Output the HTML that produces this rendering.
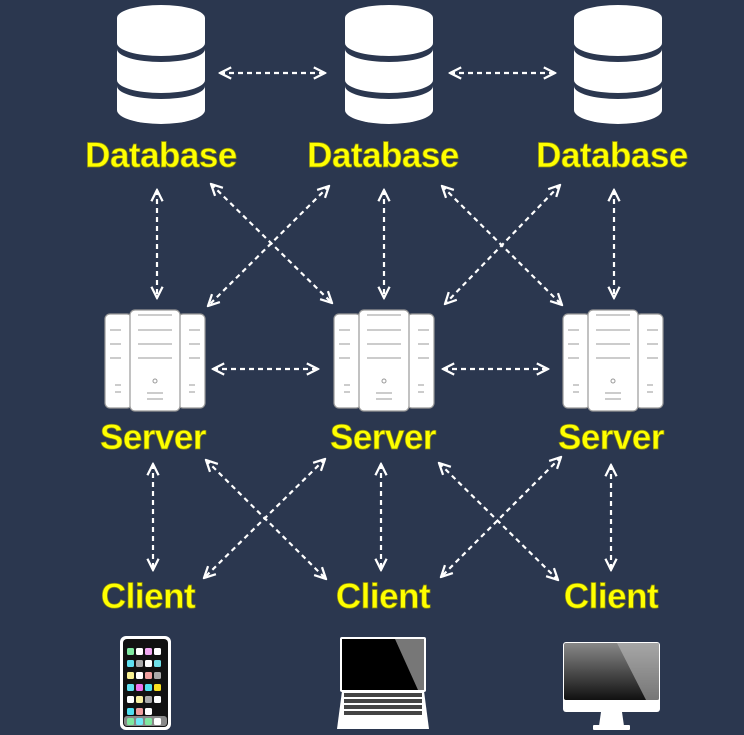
<!DOCTYPE html>
<html><head><meta charset="utf-8"><style>
html,body{margin:0;padding:0;background:#2b374f;}
svg{display:block}
text{font-family:"Liberation Sans",sans-serif;font-weight:bold;font-size:35px;fill:#ffff00;stroke:#8a8a10;stroke-width:0.7;text-anchor:middle;letter-spacing:-0.5px}
</style></head><body>
<svg width="744" height="735" viewBox="0 0 744 735" xmlns="http://www.w3.org/2000/svg">
<defs>
<marker id="a" viewBox="0 0 10 10" refX="9" refY="5" markerWidth="14" markerHeight="14" markerUnits="userSpaceOnUse" orient="auto-start-reverse">
<path d="M1,1 L9,5 L1,9" fill="none" stroke="#fff" stroke-width="1.6"/>
</marker>
<g id="db">
<path d="M-44,15 A44,13 0 0 1 44,15 L44,107 A44,14 0 0 1 -44,107 Z" fill="#fff"/>
<path d="M-44,40 A44,13 0 0 0 44,40 L44,46 A44,13 0 0 1 -44,46 Z" fill="#2b374f"/>
<path d="M-44,77 A44,13 0 0 0 44,77 L44,83 A44,13 0 0 1 -44,83 Z" fill="#2b374f"/>
</g>
<g id="srv">
<rect x="-50" y="4" width="27" height="94" rx="5" fill="#fff" stroke="#999" stroke-width="1.2"/>
<rect x="23" y="4" width="27" height="94" rx="5" fill="#fff" stroke="#999" stroke-width="1.2"/>
<rect x="-25" y="0" width="50" height="101" rx="5" fill="#fff" stroke="#999" stroke-width="1.2"/>
<g stroke="#999" stroke-width="1">
<line x1="-17" y1="5" x2="17" y2="5"/><line x1="-17" y1="20" x2="17" y2="20"/><line x1="-17" y1="34" x2="17" y2="34"/><line x1="-17" y1="48" x2="17" y2="48"/>
<line x1="-8" y1="83" x2="8" y2="83"/><line x1="-8" y1="89" x2="8" y2="89"/>
<line x1="-45" y1="20" x2="-34" y2="20"/><line x1="-45" y1="34" x2="-34" y2="34"/><line x1="-45" y1="48" x2="-34" y2="48"/>
<line x1="-40" y1="75" x2="-34" y2="75"/><line x1="-40" y1="82" x2="-34" y2="82"/>
<line x1="34" y1="20" x2="45" y2="20"/><line x1="34" y1="34" x2="45" y2="34"/><line x1="34" y1="48" x2="45" y2="48"/>
<line x1="34" y1="75" x2="40" y2="75"/><line x1="34" y1="82" x2="40" y2="82"/>
</g>
<circle cx="0" cy="71" r="2" fill="none" stroke="#999"/>
</g>
</defs>
<use href="#db" x="161" y="3"/>
<use href="#db" x="389" y="3"/>
<use href="#db" x="618" y="3"/>
<text x="161" y="167">Database</text>
<text x="383" y="167">Database</text>
<text x="612" y="167">Database</text>
<use href="#srv" x="155" y="310"/>
<use href="#srv" x="384" y="310"/>
<use href="#srv" x="613" y="310"/>
<text x="153" y="449">Server</text>
<text x="383" y="449">Server</text>
<text x="611" y="449">Server</text>
<text x="148" y="608">Client</text>
<text x="383" y="608">Client</text>
<text x="611" y="608">Client</text>
<g stroke="#fff" stroke-width="2.2" stroke-dasharray="5,4" fill="none" marker-start="url(#a)" marker-end="url(#a)">
<line x1="220" y1="73" x2="325" y2="73"/><line x1="450" y1="73" x2="555" y2="73"/>
<line x1="157" y1="190" x2="157" y2="298"/><line x1="384" y1="190" x2="384" y2="298"/><line x1="614" y1="190" x2="614" y2="298"/>
<line x1="211" y1="184" x2="332" y2="303"/><line x1="329" y1="186" x2="208" y2="306"/>
<line x1="442" y1="186" x2="562" y2="305"/><line x1="560" y1="185" x2="445" y2="304"/>
<line x1="213" y1="369" x2="318" y2="369"/><line x1="443" y1="369" x2="548" y2="369"/>
<line x1="153" y1="464" x2="153" y2="570"/><line x1="381" y1="464" x2="381" y2="570"/><line x1="611" y1="465" x2="611" y2="570"/>
<line x1="206" y1="460" x2="326" y2="579"/><line x1="325" y1="459" x2="204" y2="578"/>
<line x1="439" y1="463" x2="558" y2="580"/><line x1="561" y1="457" x2="441" y2="577"/>
</g>
<!-- phone -->
<rect x="120" y="636" width="51" height="94" rx="6" fill="#fff"/>
<rect x="123" y="639" width="45" height="88" rx="4" fill="#111"/>
<g>
<rect x="127" y="648" width="7" height="7" rx="1.5" fill="#7ee8a0"/><rect x="136" y="648" width="7" height="7" rx="1.5" fill="#fff"/><rect x="145" y="648" width="7" height="7" rx="1.5" fill="#f0a8f0"/><rect x="154" y="648" width="7" height="7" rx="1.5" fill="#fff"/>
<rect x="127" y="660" width="7" height="7" rx="1.5" fill="#5fe0f0"/><rect x="136" y="660" width="7" height="7" rx="1.5" fill="#aaa"/><rect x="145" y="660" width="7" height="7" rx="1.5" fill="#fff"/><rect x="154" y="660" width="7" height="7" rx="1.5" fill="#6fe0e8"/>
<rect x="127" y="672" width="7" height="7" rx="1.5" fill="#f8f090"/><rect x="136" y="672" width="7" height="7" rx="1.5" fill="#fff"/><rect x="145" y="672" width="7" height="7" rx="1.5" fill="#f0a0a0"/><rect x="154" y="672" width="7" height="7" rx="1.5" fill="#aaa"/>
<rect x="127" y="684" width="7" height="7" rx="1.5" fill="#60e0f0"/><rect x="136" y="684" width="7" height="7" rx="1.5" fill="#f070f0"/><rect x="145" y="684" width="7" height="7" rx="1.5" fill="#50e0f0"/><rect x="154" y="684" width="7" height="7" rx="1.5" fill="#f8e020"/>
<rect x="127" y="696" width="7" height="7" rx="1.5" fill="#fff"/><rect x="136" y="696" width="7" height="7" rx="1.5" fill="#f8f0a0"/><rect x="145" y="696" width="7" height="7" rx="1.5" fill="#aaa"/><rect x="154" y="696" width="7" height="7" rx="1.5" fill="#fff"/>
<rect x="127" y="708" width="7" height="7" rx="1.5" fill="#50e0f0"/><rect x="136" y="708" width="7" height="7" rx="1.5" fill="#f0a0a0"/><rect x="145" y="708" width="7" height="7" rx="1.5" fill="#fff"/>
<rect x="124" y="716" width="43" height="10" rx="3" fill="#888"/>
<rect x="127" y="718" width="7" height="7" rx="1.5" fill="#80e8a0"/><rect x="136" y="718" width="7" height="7" rx="1.5" fill="#70e8f8"/><rect x="145" y="718" width="7" height="7" rx="1.5" fill="#80e8a0"/><rect x="154" y="718" width="7" height="7" rx="1.5" fill="#fff"/>
</g>
<!-- laptop -->
<rect x="340" y="637" width="86" height="55" rx="2" fill="#fff"/>
<rect x="342" y="639" width="82" height="51" fill="#000"/>
<polygon points="395,639 424,639 424,690 418,690" fill="#777"/>
<polygon points="342,691 424,691 429,729 337,729" fill="#fff"/>
<g fill="#444"><rect x="344" y="693" width="78" height="4"/><rect x="344" y="699" width="78" height="4"/><rect x="344" y="705" width="78" height="4"/><rect x="344" y="711" width="78" height="4"/></g>
<!-- monitor -->
<rect x="563" y="642" width="97" height="70" rx="3" fill="#fff"/>
<defs><linearGradient id="g" x1="0" y1="0" x2="0" y2="1"><stop offset="0" stop-color="#888"/><stop offset="1" stop-color="#111"/></linearGradient></defs>
<rect x="564" y="643" width="95" height="57" rx="2" fill="url(#g)"/>
<polygon points="617,643 659,643 659,700 646,700" fill="#bbb" opacity="0.6"/>
<polygon points="601,712 622,712 624,726 599,726" fill="#fff"/>
<rect x="593" y="725" width="37" height="5" rx="1" fill="#fff"/>
</svg>
</body></html>
